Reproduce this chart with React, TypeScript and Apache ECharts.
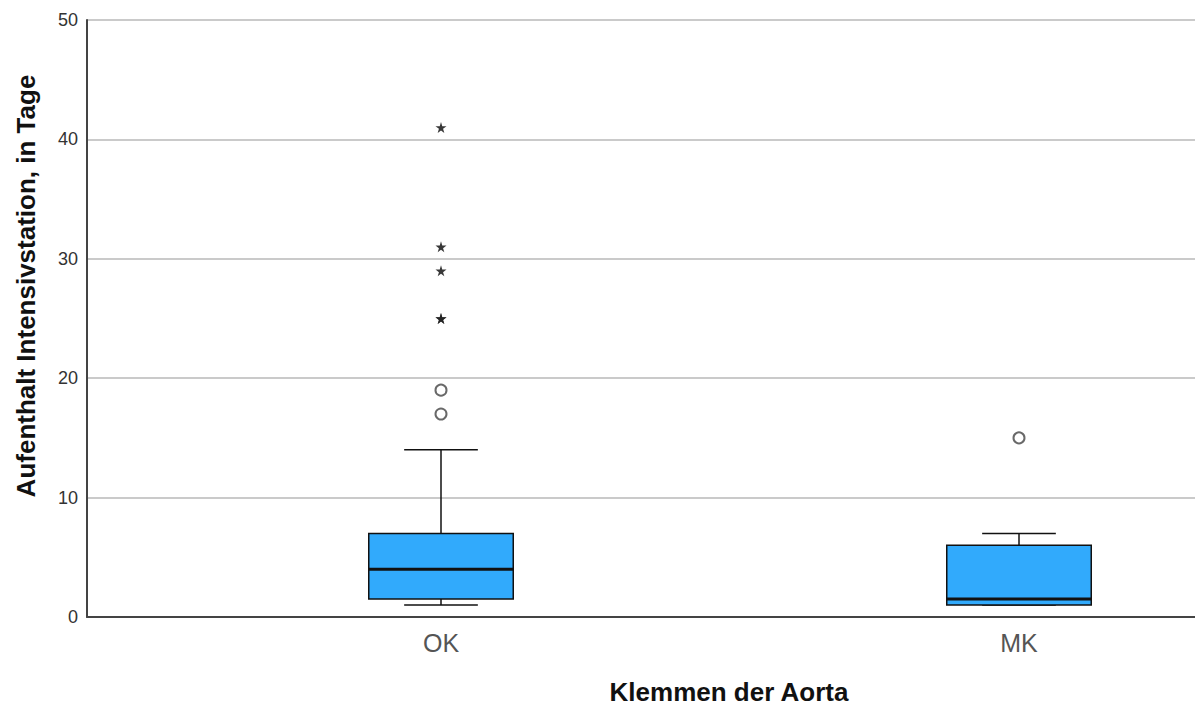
import React, { useEffect, useRef } from "react";
import * as echarts from "echarts";

const categories = ["OK", "MK"];
// [min, Q1, median, Q3, max]
const boxStats = [
  [1, 1.5, 4, 7, 14],
  [1, 1, 1.5, 6, 7],
];
const circleOutliers: [string, number][] = [
  ["OK", 19],
  ["OK", 17],
  ["MK", 15],
];
const starOutliers: [string, number][] = [
  ["OK", 41],
  ["OK", 31],
  ["OK", 29],
  ["OK", 25],
  ["OK", 25],
];
const yTicks = { min: 0, max: 50, interval: 10 };
const yTitle = "Aufenthalt Intensivstation, in Tage";
const xTitle = "Klemmen der Aorta";

const STAR =
  "path://M50,0 L61,35 L98,35 L68,57 L79,91 L50,70 L21,91 L32,57 L2,35 L39,35 Z";

const FONT = "Liberation Sans, Arial, sans-serif";

export default function App() {
  const ref = useRef<HTMLDivElement>(null);
  useEffect(() => {
    if (!ref.current) return;
    const chart = echarts.init(ref.current, null, { renderer: "svg" });
    const pos = (name: string) => categories.indexOf(name) + 1;
    const boxData = boxStats.map((s, i) => [i + 1, ...s]);
    chart.setOption({
      animation: false,
      backgroundColor: "#ffffff",
      grid: { left: 87, right: 0, top: 20, bottom: 91 },
      xAxis: {
        type: "value",
        min: 1 - 354 / 578,
        max: 2 + 176 / 578,
        axisLine: { show: true, onZero: false, lineStyle: { color: "#444", width: 2 } },
        axisTick: { show: false },
        splitLine: { show: false },
        axisLabel: {
          customValues: [1, 2],
          formatter: (v: number) => categories[Math.round(v) - 1] ?? "",
          fontSize: 25,
          color: "#555",
          margin: 13,
          fontFamily: FONT,
        },
      },
      yAxis: {
        type: "value",
        min: yTicks.min,
        max: yTicks.max,
        interval: yTicks.interval,
        axisLine: { show: true, lineStyle: { color: "#444", width: 2 } },
        axisTick: { show: false },
        axisLabel: {
          fontSize: 18,
          color: "#333",
          margin: 9,
          fontFamily: FONT,
        },
        splitLine: { show: true, lineStyle: { color: "#b8b8b8", width: 1.5 } },
      },
      graphic: [
        {
          type: "text",
          x: 26,
          y: 286,
          rotation: Math.PI / 2,
          style: {
            text: yTitle,
            fontSize: 26,
            fontWeight: "bold",
            fill: "#111",
            fontFamily: FONT,
            align: "center",
            verticalAlign: "middle",
          },
        },
        {
          type: "text",
          x: 729,
          y: 692,
          style: {
            text: xTitle,
            fontSize: 26,
            fontWeight: "bold",
            fill: "#111",
            fontFamily: FONT,
            align: "center",
            verticalAlign: "middle",
          },
        },
      ],
      series: [
        {
          type: "custom",
          data: boxData,
          encode: { x: 0, y: [1, 2, 3, 4, 5] },
          z: 3,
          renderItem: (params: any, api: any) => {
            const idx = api.value(0);
            const vals = [1, 2, 3, 4, 5].map((d) => api.value(d));
            const pts = vals.map((v) => api.coord([idx, v]));
            const cx = pts[0][0];
            const band = api.size([1, 0])[0];
            const hw = band * 0.125;
            const cw = hw * 0.51;
            const [pMin, pQ1, pMed, pQ3, pMax] = pts.map((p: number[]) => p[1]);
            const line = (x1: number, y1: number, x2: number, y2: number, w: number) => ({
              type: "line",
              shape: { x1, y1, x2, y2 },
              style: { stroke: "#111", lineWidth: w },
            });
            return {
              type: "group",
              children: [
                line(cx, pQ3, cx, pMax, 1.5),
                line(cx, pQ1, cx, pMin, 1.5),
                line(cx - cw, pMax, cx + cw, pMax, 1.5),
                line(cx - cw, pMin, cx + cw, pMin, 1.5),
                {
                  type: "rect",
                  shape: { x: cx - hw, y: pQ3, width: hw * 2, height: pQ1 - pQ3 },
                  style: { fill: "#31aafc", stroke: "#111", lineWidth: 1.5 },
                },
                line(cx - hw, pMed, cx + hw, pMed, 3),
              ],
            };
          },
        },
        {
          type: "scatter",
          data: circleOutliers.map(([c, v]) => [pos(c), v]),
          symbol: "circle",
          symbolSize: 11,
          itemStyle: { color: "#ffffff", borderColor: "#444", borderWidth: 2 },
          z: 4,
        },
        {
          type: "scatter",
          data: starOutliers.map(([c, v]) => [pos(c), v]),
          symbol: STAR,
          symbolSize: 11,
          itemStyle: { color: "#222", opacity: 0.9 },
          z: 4,
        },
      ],
    });
    return () => chart.dispose();
  }, []);
  return (
    <div
      ref={ref}
      style={{ position: "absolute", left: 0, top: 0, width: 1195, height: 708 }}
    />
  );
}
